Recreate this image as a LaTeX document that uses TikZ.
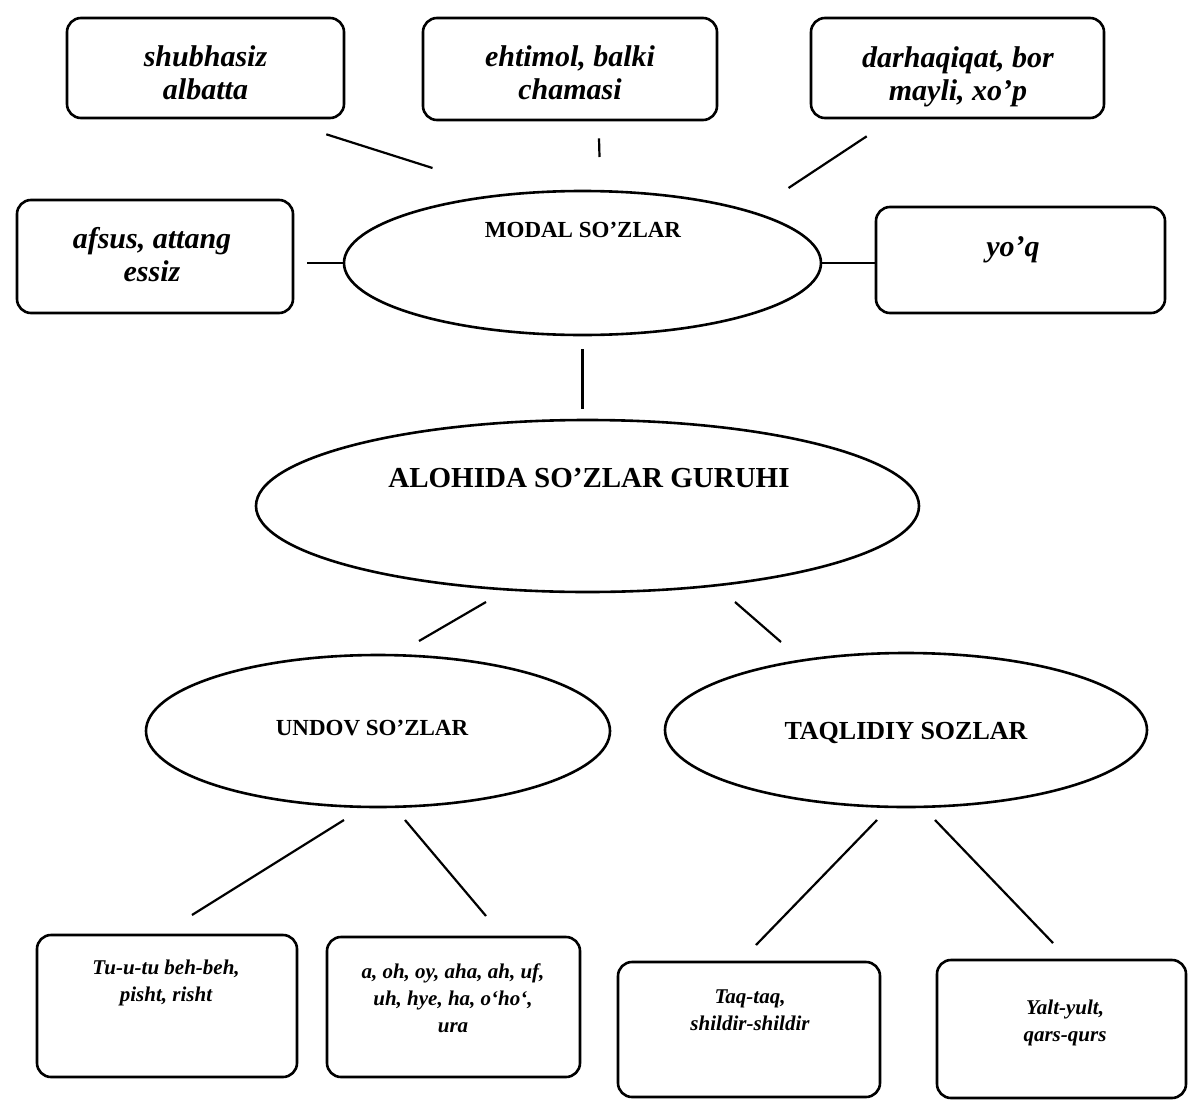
\documentclass[tikz,border=0pt]{standalone}
\usepackage{fontspec}
\setmainfont{Liberation Serif}
\usepackage{tikz}
\usetikzlibrary{shapes.geometric}
\tikzset{wordbox/.style={draw, line width=2.6pt, rounded corners=14pt, inner sep=0pt}}
\tikzset{oval/.style={draw, ellipse, line width=2.6pt, inner sep=0pt}}
\tikzset{link/.style={line width=2.2pt}}
\tikzset{word/.style={font=\fontsize{30}{33}\selectfont\bfseries\itshape, align=center, inner sep=0pt}}
\tikzset{smallword/.style={font=\fontsize{21}{27}\selectfont\bfseries\itshape, align=center, inner sep=0pt}}
\tikzset{ovaltext/.style={font=\fontsize{23}{26}\selectfont\bfseries, inner sep=0pt}}
\tikzset{bigovaltext/.style={font=\fontsize{29}{32}\selectfont\bfseries, inner sep=0pt}}

\begin{document}
\begin{tikzpicture}[x=1pt, y=-1pt]
                \useasboundingbox (0,0) rectangle (1189,1100);
                \node[wordbox, minimum width=277pt, minimum height=100pt] (shubhasiz) at (205.5,68) {};
                \node[word] (shubhasiz-t) at (205.5,73) {shubhasiz\\albatta};
                \node[wordbox, minimum width=294pt, minimum height=102pt] (ehtimol) at (570,69) {};
                \node[word] (ehtimol-t) at (570,73) {ehtimol, balki\\chamasi};
                \node[wordbox, minimum width=293pt, minimum height=100pt] (darhaqiqat) at (957.5,68) {};
                \node[word] (darhaqiqat-t) at (958,77) {darhaqiqat, bor\\mayli, xo’p};
                \node[wordbox, minimum width=276pt, minimum height=113pt] (afsus) at (155,256.5) {};
                \node[word] (afsus-t) at (152,255) {afsus, attang\\essiz};
                \node[wordbox, minimum width=289pt, minimum height=106pt] (yoq) at (1020.5,260) {};
                \node[word] (yoq-t) at (1013,250) {yo’q};

                \node[oval, minimum width=477pt, minimum height=144pt] (modal) at (582.5,263) {};
                \node[ovaltext] (modal-t) at (583,230) {MODAL SO’ZLAR};
                \node[oval, minimum width=663pt, minimum height=172pt] (alohida) at (587.5,506) {};
                \node[bigovaltext] (alohida-t) at (589,478) {ALOHIDA SO’ZLAR GURUHI};
                \node[oval, minimum width=464pt, minimum height=152pt] (undov) at (378,731) {};
                \node[ovaltext] (undov-t) at (372,728) {UNDOV SO’ZLAR};
                \node[oval, minimum width=482pt, minimum height=154pt] (taqlidiy) at (906,730) {};
                \node[bigovaltext, font=\fontsize{26}{29}\selectfont\bfseries] (taqlidiy-t) at (906,733) {TAQLIDIY SOZLAR};

                \node[wordbox, minimum width=260pt, minimum height=142pt] (tutu) at (167,1006) {};
                \node[smallword] (tutu-t) at (166,983) {Tu-u-tu beh-beh,\\pisht, risht};
                \node[wordbox, minimum width=253pt, minimum height=140pt] (oh) at (453.5,1007) {};
                \node[smallword] (oh-t) at (453,998) {a, oh, oy, aha, ah, uf,\\uh, hye, ha, o‘ho‘,\\ura};
                \node[wordbox, minimum width=262pt, minimum height=135pt] (taq) at (749,1029.5) {};
                \node[smallword] (taq-t) at (750,1010) {Taq-taq,\\shildir-shildir};
                \node[wordbox, minimum width=249pt, minimum height=138pt] (yalt) at (1061.5,1029) {};
                \node[smallword] (yalt-t) at (1065,1023) {Yalt-yult,\\qars-qurs};

                \draw[link] ([shift={(-19,15)}]shubhasiz.south east) -- ([shift={(-150,-95)}]modal.center);
                \draw[link] ([shift={(29,17)}]ehtimol.south) -- ([shift={(17,-106)}]modal.center);
                \draw[link] ([shift={(57,17)}]darhaqiqat.south west) -- ([shift={(206,-75)}]modal.center);
                \draw[link, shorten <=13pt] (afsus.east |- modal.west) -- (modal.west);
                \draw[link] (modal.east) -- (yoq.west |- modal.east);
                \draw[link, shorten <=13pt, shorten >=10pt] (modal.south) -- (modal.south |- alohida.north);
                \draw[link] ([shift={(-101.5,96)}]alohida.center) -- ([shift={(41,-90)}]undov.center);
                \draw[link] ([shift={(147.5,96)}]alohida.center) -- ([shift={(-125,-88)}]taqlidiy.center);
                \draw[link] ([shift={(-34,89)}]undov.center) -- ([shift={(25,-91)}]tutu.center);
                \draw[link] ([shift={(27,89)}]undov.center) -- ([shift={(32.5,-91)}]oh.center);
                \draw[link] ([shift={(-29,90)}]taqlidiy.center) -- ([shift={(7,-84.5)}]taq.center);
                \draw[link] ([shift={(29,90)}]taqlidiy.center) -- ([shift={(-8.5,-86)}]yalt.center);
            \end{tikzpicture}
\end{document}
